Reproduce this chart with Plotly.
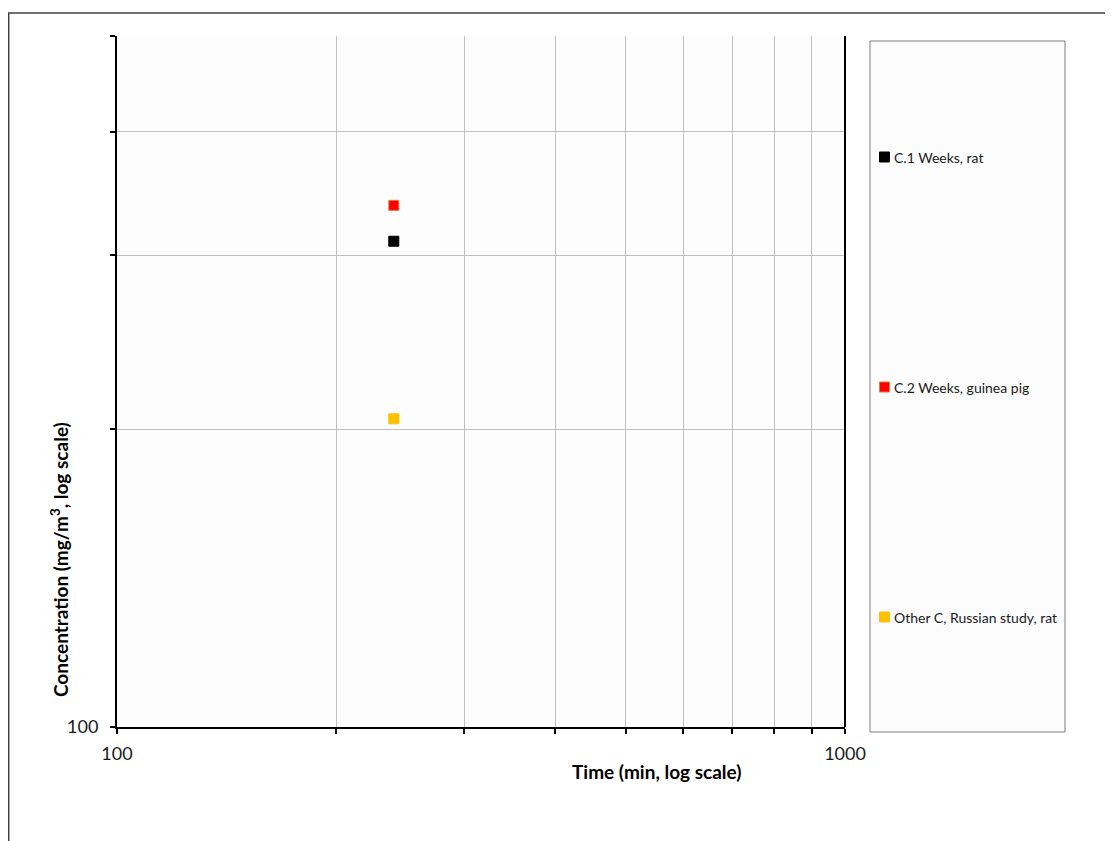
import plotly.graph_objects as go

# ---- data ----
series_names = ["C.1 Weeks, rat", "C.2 Weeks, guinea pig", "Other C, Russian study, rat"]
series_time = [[240], [240], [240]]
series_conc = [[310], [337], [205]]
series_fill = ["#000000", "#FF0000", "#FFC000"]
series_edge = ["#000000", "#E07B39", "#FFC000"]

x_tickvals = [100, 200, 300, 400, 500, 600, 700, 800, 900, 1000]
x_ticktext = ["100", "", "", "", "", "", "", "", "", "1000"]
y_tickvals = [100, 200, 300, 400, 500]
y_ticktext = ["100", "", "", "", ""]

x_title = "Time (min, log scale)"
y_title = "Concentration (mg/m<sup>3</sup>, log scale)"

# ---- layout geometry (screen pixels; page body has an 8px offset) ----
OFF = 8
W, H = 1113 - OFF, 841 - OFF
L, R, T, B = 117, 845, 36, 727
pw, ph = R - L, B - T


def px(x):
    return (x - L) / pw


def py(y):
    return (B - y) / ph


FONT = "Lato, 'Open Sans', sans-serif"

fig = go.Figure()
for name, xs, ys, fc, ec in zip(series_names, series_time, series_conc, series_fill, series_edge):
    fig.add_trace(go.Scatter(
        x=xs, y=ys, mode="markers", name=name, showlegend=False,
        marker=dict(symbol="square", size=10, color=fc, line=dict(color=ec, width=1)),
    ))

shapes = [
    # outer frame
    dict(type="line", xref="paper", yref="paper", x0=px(8), x1=px(1112), y0=py(13), y1=py(13),
         line=dict(color="#404040", width=1.5)),
    dict(type="line", xref="paper", yref="paper", x0=px(8.7), x1=px(8.7), y0=py(13), y1=py(845),
         line=dict(color="#404040", width=1.5)),
    # right edge line of plot
    dict(type="line", xref="paper", yref="paper", x0=1, x1=1, y0=0, y1=1,
         line=dict(color="#000000", width=2)),
    # legend box
    dict(type="rect", xref="paper", yref="paper", x0=px(870), x1=px(1065), y0=py(732), y1=py(41),
         fillcolor="#FCFCFC", line=dict(color="#7F7F7F", width=1), layer="below"),
]
annotations = []
legend_y = [157, 387, 617]
for name, fc, ec, ly in zip(series_names, series_fill, series_edge, legend_y):
    shapes.append(dict(type="rect", xref="paper", yref="paper",
                       x0=px(879.5), x1=px(889.5), y0=py(ly + 5), y1=py(ly - 5),
                       fillcolor=fc, line=dict(color=ec, width=1)))
    annotations.append(dict(text=name, xref="paper", yref="paper", x=px(892), y=py(ly),
                            xanchor="left", yanchor="middle", showarrow=False,
                            font=dict(family=FONT, size=14, color="#1a1a1a")))

annotations.append(dict(text=x_title, xref="paper", yref="paper", x=px(657), y=py(771),
                        xanchor="center", yanchor="middle", showarrow=False,
                        font=dict(family=FONT, size=19, color="#000000", weight="bold")))
annotations.append(dict(text=y_title, xref="paper", yref="paper", x=px(59), y=py(560),
                        xanchor="center", yanchor="middle", showarrow=False, textangle=-90,
                        font=dict(family=FONT, size=19, color="#000000", weight="bold")))

fig.update_layout(
    width=W, height=H,
    margin=dict(l=L - OFF, r=W - (R - OFF), t=T - OFF, b=H - (B - OFF), pad=0),
    paper_bgcolor="#FFFFFF",
    plot_bgcolor="#FDFDFD",
    showlegend=False,
    shapes=shapes,
    annotations=annotations,
    font=dict(family=FONT, size=18, color="#1a1a1a"),
)
fig.update_xaxes(
    type="log", range=[2, 3], tickvals=x_tickvals, ticktext=x_ticktext,
    showgrid=True, gridcolor="#BFBFBF", gridwidth=1,
    showline=True, linecolor="#000000", linewidth=2,
    ticks="outside", ticklen=5, tickwidth=2, tickcolor="#000000",
    ticklabelstandoff=4, zeroline=False,
)
fig.update_yaxes(
    type="log", range=[2, 2.69897], tickvals=y_tickvals, ticktext=y_ticktext,
    showgrid=True, gridcolor="#BFBFBF", gridwidth=1,
    showline=True, linecolor="#000000", linewidth=2,
    ticks="outside", ticklen=5, tickwidth=2, tickcolor="#000000",
    ticklabelstandoff=8, zeroline=False,
)

fig.write_html("out.html")
